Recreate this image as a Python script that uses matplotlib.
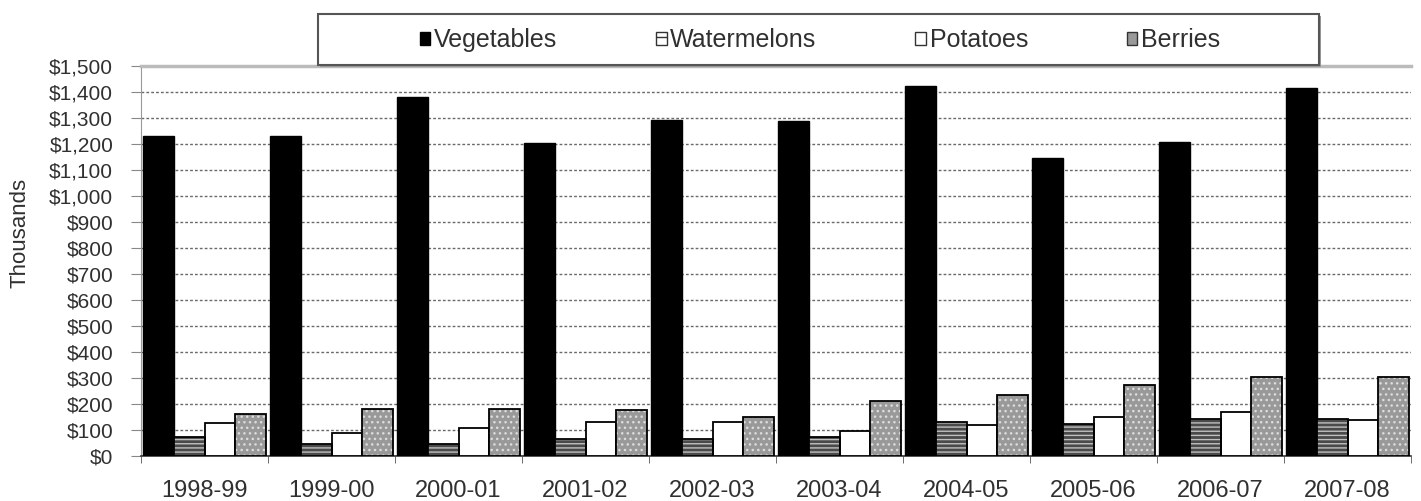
import numpy as np
import matplotlib
matplotlib.use("Agg")
import matplotlib.pyplot as plt
from matplotlib.patches import Patch, Rectangle
from matplotlib.ticker import FuncFormatter

plt.rcParams['font.family'] = ['Liberation Sans', 'DejaVu Sans']

# data (thousands of dollars)
years = ["1998-99", "1999-00", "2000-01", "2001-02", "2002-03",
         "2003-04", "2004-05", "2005-06", "2006-07", "2007-08"]
vegetables = [1232, 1232, 1380, 1203, 1293, 1290, 1425, 1147, 1208, 1417]
watermelons = [75, 45, 48, 65, 65, 73, 131, 122, 143, 143]
potatoes = [127, 89, 108, 131, 131, 96, 120, 150, 170, 139]
berries = [162, 181, 181, 177, 150, 212, 235, 274, 305, 305]

W, H = 1421, 501
fig = plt.figure(figsize=(W / 100, H / 100), dpi=100)
ax = fig.add_axes([141 / W, 1 - 456 / H, 1270 / W, 390 / H])

x = np.arange(len(years))
bw = (1 - 0.03) / 4
start = x - 0.5 + 0.015 + bw / 2

# vegetables - solid black
ax.bar(start, vegetables, bw, color='black', edgecolor='black', lw=1, zorder=3)

# watermelons - horizontal stripes
ax.bar(start + bw, watermelons, bw, color='#4a4a4a', edgecolor='#c0c0c0',
       hatch='----', lw=0, zorder=3)
ax.bar(start + bw, watermelons, bw, fill=False, edgecolor='black', lw=1.3, zorder=4)

# potatoes - white
ax.bar(start + 2 * bw, potatoes, bw, color='white', edgecolor='black', lw=1.3, zorder=3)

# berries - gray with dots
ax.bar(start + 3 * bw, berries, bw, color='#999999', edgecolor='#dddddd',
       hatch='...', lw=0, zorder=3)
ax.bar(start + 3 * bw, berries, bw, fill=False, edgecolor='black', lw=1.3, zorder=4)

ax.set_xlim(-0.5, len(years) - 0.5)
ax.set_ylim(0, 1500)
ax.set_yticks(np.arange(0, 1501, 100))
ax.yaxis.set_major_formatter(FuncFormatter(lambda v, p: f"${v:,.0f}"))
ax.tick_params(axis='y', direction='out', length=7, color='#888888',
               labelsize=15, labelcolor='#303030', pad=13)

ax.set_xticks(x)
ax.set_xticklabels(years)
ax.set_xticks(np.arange(-0.5, len(years), 1), minor=True)
ax.tick_params(axis='x', which='major', length=0, labelsize=17,
               labelcolor='#303030', pad=17)
ax.tick_params(axis='x', which='minor', length=5, color='#555555')

ax.yaxis.grid(True, color='#6a6a6a', linestyle=(0, (2, 1.5)), lw=1)
ax.set_axisbelow(True)

ax.spines['right'].set_visible(False)
ax.spines['top'].set_color('#bbbbbb')
ax.spines['top'].set_linewidth(2.5)
ax.spines['left'].set_color('#999999')
ax.spines['bottom'].set_color('#333333')
ax.spines['bottom'].set_linewidth(1.2)

fig.text(20 / W, 1 - 233 / H, "Thousands", rotation=90, fontsize=16,
         color='#303030', ha='center', va='center')

# legend box with shadow
shadow = Rectangle((320 / W, 1 - 67 / H), 1001 / W, 51 / H, transform=fig.transFigure,
                   facecolor='#999999', edgecolor='none', zorder=5)
box = Rectangle((318 / W, 1 - 65 / H), 1001 / W, 51 / H, transform=fig.transFigure,
                facecolor='white', edgecolor='#555555', lw=1.5, zorder=6)
fig.patches.extend([shadow, box])

handles = [Patch(facecolor='black', edgecolor='black'),
           Patch(facecolor='white', edgecolor='#333333', hatch='--'),
           Patch(facecolor='white', edgecolor='#333333'),
           Patch(facecolor='#999999', edgecolor='#333333')]
labels = ["Vegetables", "Watermelons", "Potatoes", "Berries"]
leg = fig.legend(handles, labels, loc='center', bbox_to_anchor=(820 / W, 1 - 40 / H),
                 ncol=4, frameon=False, fontsize=18, handlelength=0.42,
                 handleheight=0.42, handletextpad=0.15, columnspacing=3.95)
leg.set_zorder(7)
for t in leg.get_texts():
    t.set_color('#303030')

fig.savefig("out.png", dpi=100)
